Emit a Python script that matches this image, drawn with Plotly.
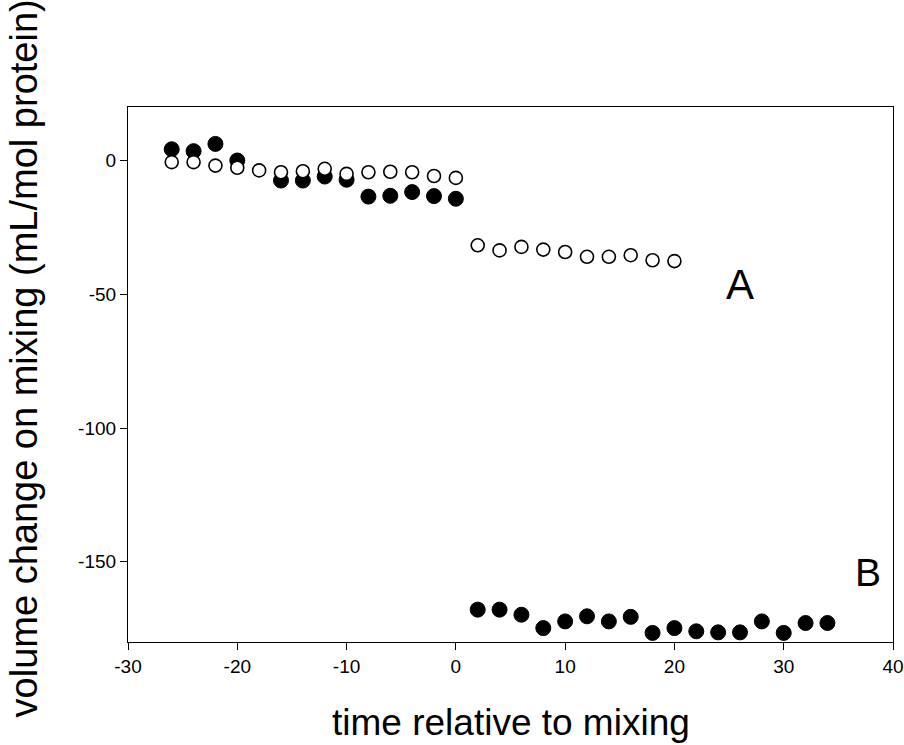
import plotly.graph_objects as go

# Filled circles (series B): before mixing and after mixing
b_time = [-26, -24, -22, -20, -16, -14, -12, -10, -8, -6, -4, -2, 0,
          2, 4, 6, 8, 10, 12, 14, 16, 18, 20, 22, 24, 26, 28, 30, 32, 34]
b_vol = [4.2, 3.5, 6.2, 0.0, -7.5, -7.5, -6.0, -7.2, -13.5, -13.2, -11.8, -13.3, -14.3,
         -167.9, -167.9, -169.8, -174.8, -172.3, -170.4, -172.3, -170.6, -176.6,
         -174.8, -176.0, -176.4, -176.4, -172.3, -176.6, -172.9, -172.9]

# Open circles (series A)
a_time = [-26, -24, -22, -20, -18, -16, -14, -12, -10, -8, -6, -4, -2, 0,
          2, 4, 6, 8, 10, 12, 14, 16, 18, 20]
a_vol = [-0.6, -0.6, -1.9, -2.7, -3.7, -4.4, -4.0, -3.1, -5.0, -4.4, -4.2, -4.4, -5.8, -6.5,
         -31.7, -33.6, -32.3, -33.3, -34.2, -36.0, -36.0, -35.4, -37.3, -37.6]

x_ticks = [-30, -20, -10, 0, 10, 20, 30, 40]
y_ticks = [0, -50, -100, -150]

FONT = "Liberation Sans, Arial, Helvetica, sans-serif"

fig = go.Figure()
fig.add_trace(go.Scatter(
    x=b_time, y=b_vol, mode="markers",
    marker=dict(symbol="circle", size=15, color="black",
                line=dict(color="black", width=1)),
    showlegend=False, cliponaxis=False))
fig.add_trace(go.Scatter(
    x=a_time, y=a_vol, mode="markers",
    marker=dict(symbol="circle", size=13, color="white",
                line=dict(color="black", width=1.6)),
    showlegend=False, cliponaxis=False))

fig.add_annotation(x=26.0, y=-46.3, text="A", showarrow=False,
                   font=dict(family=FONT, size=42, color="black"))
fig.add_annotation(x=37.7, y=-154.0, text="B", showarrow=False,
                   font=dict(family=FONT, size=39, color="black"))

fig.update_layout(
    width=904, height=745,
    margin=dict(l=128, r=11, t=107, b=103, autoexpand=False),
    paper_bgcolor="white", plot_bgcolor="white",
    font=dict(family=FONT, color="black"),
    xaxis=dict(
        range=[-30, 40], tickvals=x_ticks, ticktext=[str(v) for v in x_ticks],
        ticks="outside", ticklen=7, tickwidth=1.2, tickcolor="black",
        showline=True, linecolor="black", linewidth=1.2, mirror=True,
        showgrid=False, zeroline=False, automargin=False,
        tickfont=dict(size=19, family=FONT),
        title=dict(text=""),
    ),
    yaxis=dict(
        range=[-180, 20], tickvals=y_ticks, ticktext=[str(v) for v in y_ticks],
        ticks="outside", ticklen=7, tickwidth=1.2, tickcolor="black",
        showline=True, linecolor="black", linewidth=1.2, mirror=True,
        showgrid=False, zeroline=False, automargin=False,
        tickfont=dict(size=19, family=FONT),
        title=dict(text=""),
    ),
)

fig.add_annotation(
    xref="paper", yref="paper", x=0.50, y=-0.150, xanchor="center", yanchor="middle",
    text="time relative to mixing", showarrow=False,
    font=dict(family=FONT, size=37, color="black"))

fig.add_annotation(
    xref="paper", yref="paper", x=-0.136, y=0.53, xanchor="center", yanchor="middle",
    text="volume change on mixing (mL/mol protein)", textangle=-90, showarrow=False,
    font=dict(family=FONT, size=38, color="black"))

fig.write_html(
    "out.html",
    config={"displayModeBar": False},
    post_script="document.documentElement.style.margin='0';document.body.style.margin='0';"
                "document.body.style.padding='0';document.body.style.overflow='hidden';")
